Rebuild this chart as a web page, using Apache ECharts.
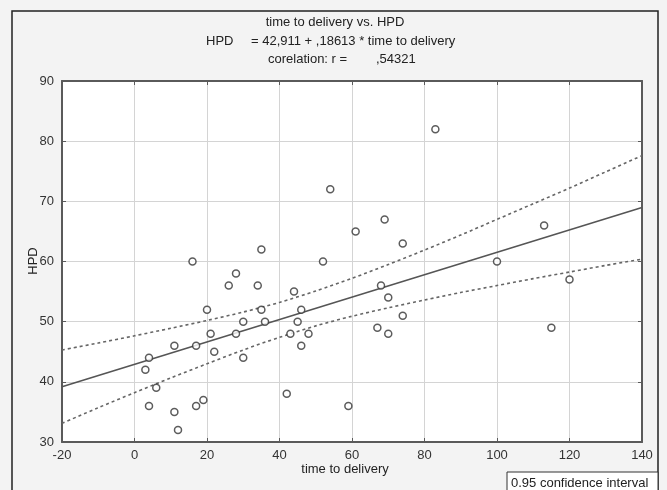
<!DOCTYPE html>
<html>
<head>
<meta charset="utf-8">
<script src="https://cdn.jsdelivr.net/npm/echarts@6/dist/echarts.min.js"></script>
<style>
html,body{margin:0;padding:0;background:#f3f3f3;}
#chart{width:667px;height:490px;}
</style>
</head>
<body>
<div id="chart"></div>
<script>
// time to delivery (x) and HPD (y) for each observation
var timeToDelivery = [3,4,4,6,11,11,12,16,17,17,19,20,21,22,26,28,28,30,30,34,35,35,36,42,43,44,45,46,46,48,52,54,59,61,67,68,69,70,70,74,74,83,100,113,115,120];
var hpd            = [42,44,36,39,46,35,32,60,46,36,37,52,48,45,56,58,48,50,44,56,62,52,50,38,48,55,50,52,46,48,60,72,36,65,49,56,67,54,48,63,51,82,60,66,49,57];

// regression as printed in the title
var intercept = 42.911;
var slope = 0.18613;
var fitX = [-20, 140];

// 0.95 confidence band
var bandX     = [-20, -10, 0, 10, 20, 30, 40, 50, 60, 70, 80, 90, 100, 110, 120, 130, 140];
var bandUpper = [45.3, 46.45, 47.65, 48.9, 50.2, 51.6, 53.2, 55.1, 57.2, 59.5, 61.9, 64.4, 67.0, 69.6, 72.2, 74.9, 77.6];
var bandLower = [33.1, 35.7, 38.2, 40.65, 43.0, 45.3, 47.4, 49.3, 50.9, 52.3, 53.6, 54.85, 56.0, 57.15, 58.25, 59.35, 60.4];

var xTicks = [-20, 0, 20, 40, 60, 80, 100, 120, 140];
var yTicks = [30, 40, 50, 60, 70, 80, 90];

var FONT = "'Liberation Sans Narrow','Arial Narrow','Liberation Sans',Arial,sans-serif";
var AX = '#5a5a5a';

var pts = timeToDelivery.map(function(x, i){ return [x, hpd[i]]; });
var fitLine = fitX.map(function(x){ return [x, intercept + slope * x]; });
var upper = bandX.map(function(x, i){ return [x, bandUpper[i]]; });
var lower = bandX.map(function(x, i){ return [x, bandLower[i]]; });

function baseAxis(extra){
  var a = {
    axisLine:{show:true, onZero:false, lineStyle:{color:AX, width:2}},
    axisTick:{show:true, inside:true, length:4, lineStyle:{color:AX, width:1}},
    splitLine:{show:false}
  };
  for (var k in extra) a[k] = extra[k];
  return a;
}

var chart = echarts.init(document.getElementById('chart'), null, {renderer:'canvas'});
chart.setOption({
  backgroundColor:'#f3f3f3',
  animation:false,
  grid:{left:62, top:81, width:580, height:361, show:true, backgroundColor:'#ffffff', borderWidth:0},
  xAxis:[
    baseAxis({type:'value', position:'bottom', min:xTicks[0], max:xTicks[xTicks.length-1], interval:20,
      axisLabel:{color:'#333', fontFamily:FONT, fontSize:13, margin:7},
      splitLine:{show:true, lineStyle:{color:'#d4d4d4', width:1}}}),
    baseAxis({type:'value', position:'top', min:xTicks[0], max:xTicks[xTicks.length-1], interval:20,
      axisLabel:{show:false}})
  ],
  yAxis:[
    baseAxis({type:'value', position:'left', min:yTicks[0], max:yTicks[yTicks.length-1], interval:10,
      axisLabel:{color:'#333', fontFamily:FONT, fontSize:13, margin:8},
      splitLine:{show:true, lineStyle:{color:'#d4d4d4', width:1}}}),
    baseAxis({type:'value', position:'right', min:yTicks[0], max:yTicks[yTicks.length-1], interval:10,
      axisLabel:{show:false}})
  ],
  series:[
    {type:'line', data:upper, smooth:0.3, symbol:'none', z:3,
      lineStyle:{color:'#666', width:1.6, type:[3,3]}},
    {type:'line', data:lower, smooth:0.3, symbol:'none', z:3,
      lineStyle:{color:'#666', width:1.6, type:[3,3]}},
    {type:'line', data:fitLine, symbol:'none', z:3,
      lineStyle:{color:'#555', width:1.6}},
    {type:'scatter', data:pts, symbol:'circle', symbolSize:7, z:5,
      itemStyle:{color:'#ffffff', borderColor:'#333', borderWidth:1.5}}
  ],
  graphic:[
    {type:'rect', z:-10, silent:true, shape:{x:12, y:11, width:646, height:500},
      style:{fill:'#f3f3f3', stroke:'#222', lineWidth:1.5}},
    {type:'text', x:335, y:22, style:{text:'time to delivery vs. HPD', fill:'#222', font:'13px '+FONT, textAlign:'center', textVerticalAlign:'middle'}},
    {type:'text', x:206, y:41, style:{text:'HPD', fill:'#222', font:'13px '+FONT, textAlign:'left', textVerticalAlign:'middle'}},
    {type:'text', x:251, y:41, style:{text:'= 42,911 + ,18613 * time to delivery', fill:'#222', font:'13px '+FONT, textAlign:'left', textVerticalAlign:'middle'}},
    {type:'text', x:268, y:59, style:{text:'corelation: r =', fill:'#222', font:'13px '+FONT, textAlign:'left', textVerticalAlign:'middle'}},
    {type:'text', x:376, y:59, style:{text:',54321', fill:'#222', font:'13px '+FONT, textAlign:'left', textVerticalAlign:'middle'}},
    {type:'text', x:345, y:469, style:{text:'time to delivery', fill:'#222', font:'13px '+FONT, textAlign:'center', textVerticalAlign:'middle'}},
    {type:'text', x:33, y:261, rotation:Math.PI/2, style:{text:'HPD', fill:'#222', font:'13px '+FONT, textAlign:'center', textVerticalAlign:'middle'}},
    {type:'rect', shape:{x:507, y:472, width:151, height:22}, style:{fill:'#ffffff', stroke:'#333', lineWidth:1}},
    {type:'text', x:511, y:483, style:{text:'0.95 confidence interval', fill:'#222', font:'13px '+FONT, textAlign:'left', textVerticalAlign:'middle'}}
  ]
});
</script>
</body>
</html>
